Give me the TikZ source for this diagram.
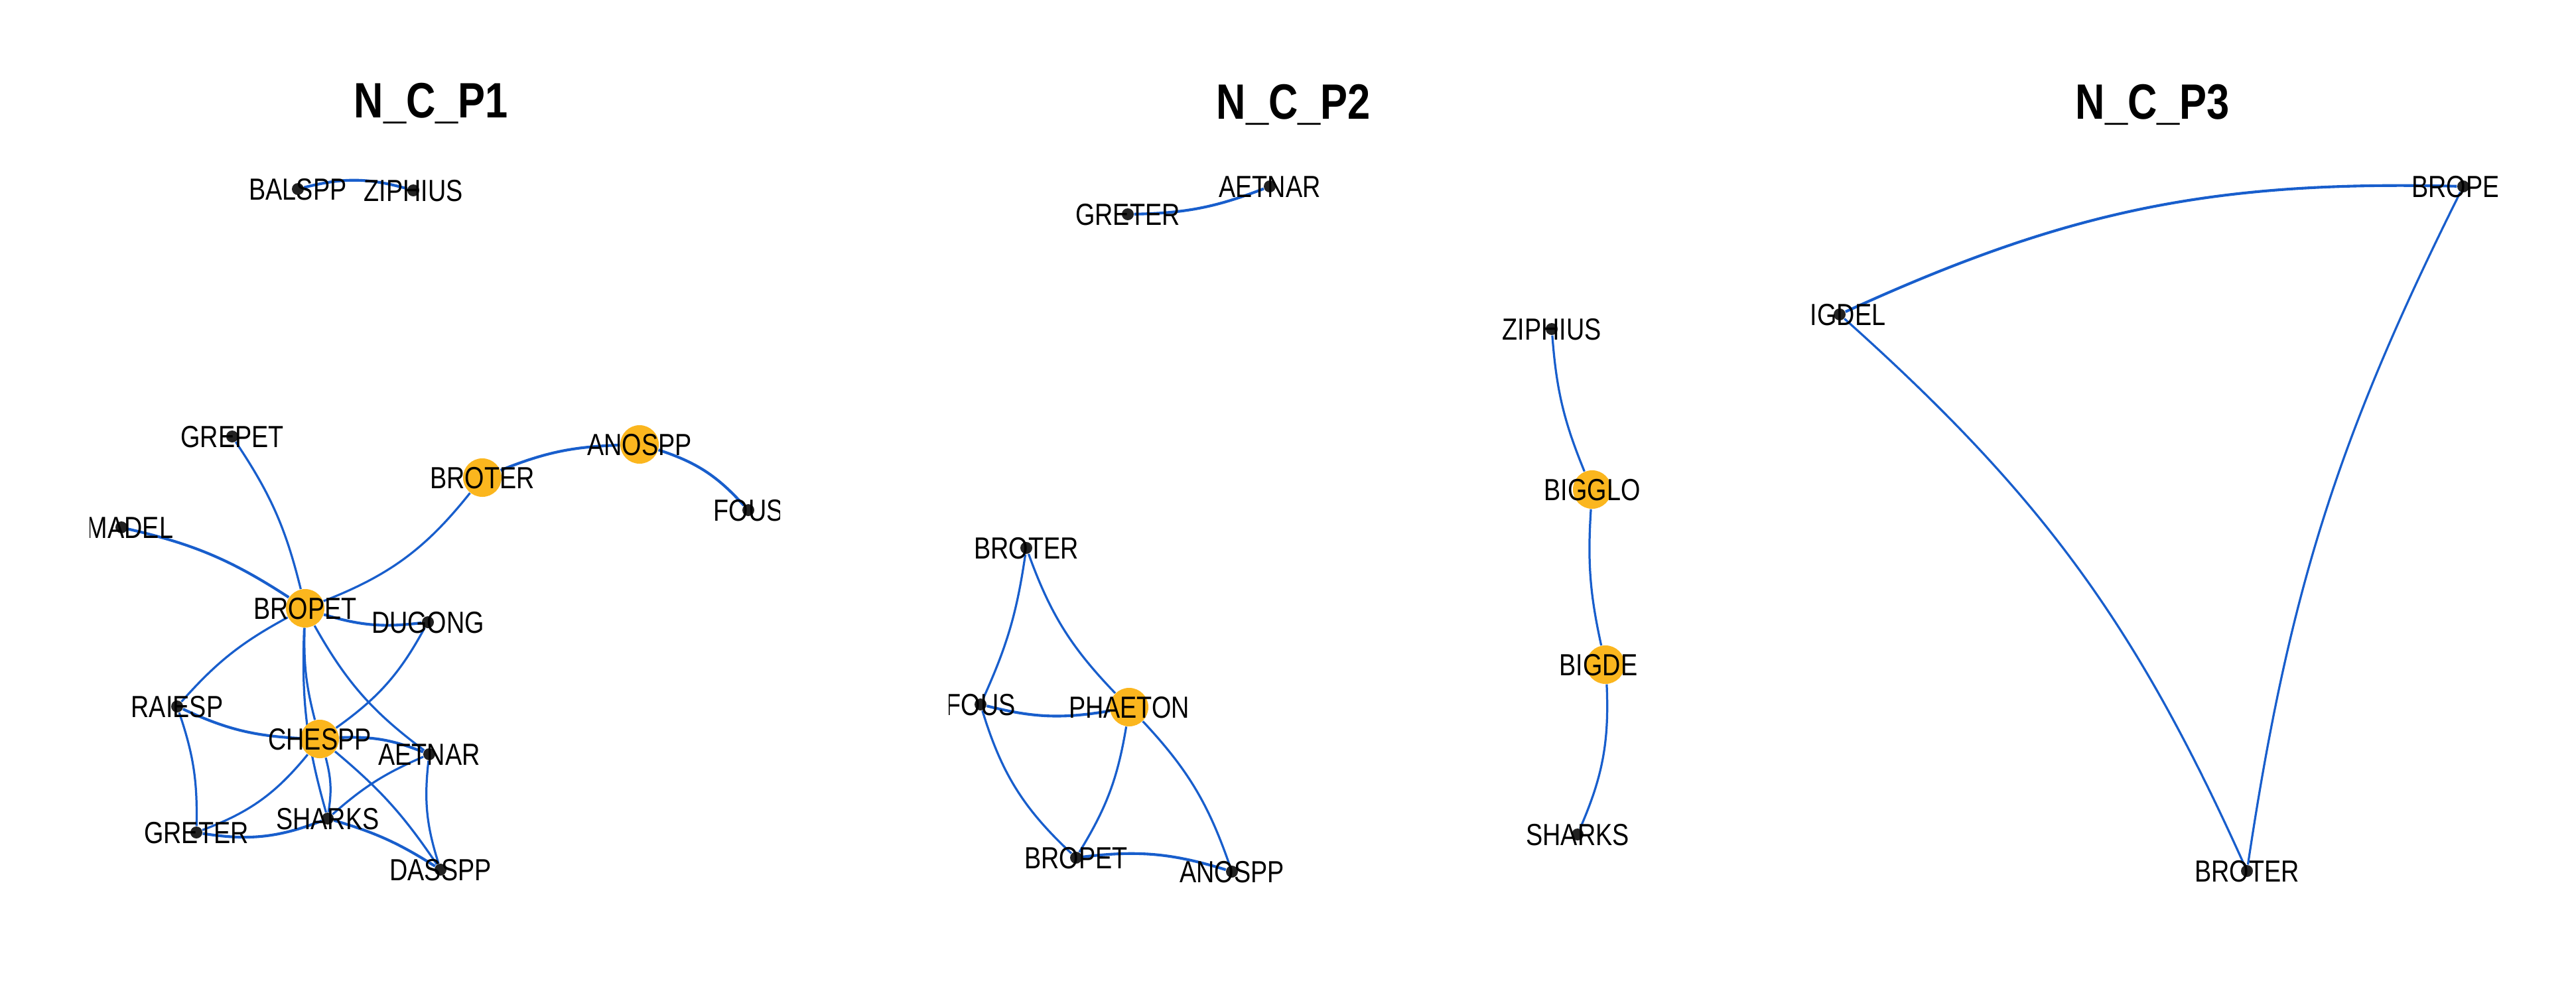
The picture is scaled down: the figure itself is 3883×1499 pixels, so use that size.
\documentclass[tikz,border=0pt]{standalone}
\usepackage{fontspec}
\newfontfamily\labfont{Liberation Sans}[FakeStretch=0.82]
\usetikzlibrary{backgrounds}
\definecolor{hubc}{RGB}{251,182,30}
\definecolor{linkc}{RGB}{24,94,204}
\definecolor{spotc}{RGB}{34,34,34}

\begin{document}
\begin{tikzpicture}[x=0.01cm, y=0.01cm]
\tikzstyle{spot}=[circle, fill=spotc, inner sep=0, minimum size=0.18cm]
\tikzstyle{hub}=[circle, fill=hubc, inner sep=0, minimum size=0.58cm]
\tikzstyle{lab}=[font=\labfont\fontsize{13.1pt}{15pt}\selectfont, inner sep=0, text height=0.33cm, text depth=0pt]
\tikzstyle{ttl}=[font=\labfont\bfseries\fontsize{21.3pt}{25pt}\selectfont, inner sep=0, text height=0.54cm, text depth=0pt]
\tikzstyle{link}=[draw=linkc, line width=0.92pt]
\tikzstyle{heavy}=[draw=linkc, line width=1.17pt]

  \useasboundingbox (0,0) rectangle (3883,-1499);

  % titres
  \node[ttl] (t1) at (650,-150) {N\_C\_P1};
  \node[ttl] (t2) at (1950,-152) {N\_C\_P2};
  \node[ttl] (t3) at (3245,-152) {N\_C\_P3};

  % reseau 1
  \begin{scope}
  \clip (135,-200) rectangle (1175,-1450);
  \node[spot, label={[lab]center:BALSPP}] (a_balspp) at (449,-285) {};
  \node[spot, label={[lab]center:ZIPHIUS}] (a_ziphius) at (623,-287) {};
  \node[spot, label={[lab]center:GREPET}] (a_grepet) at (350,-658) {};
  \node[hub, label={[lab]center:BROTER}] (a_broter) at (727,-720) {};
  \node[hub, label={[lab]center:ANOSPP}] (a_anospp) at (964,-670) {};
  \node[spot, label={[lab]center:FOUS}] (a_fous) at (1128,-769) {};
  \node[spot, label={[lab, xshift=0.13cm]center:MADEL}] (a_madel) at (183,-795) {};
  \node[hub, label={[lab]center:BROPET}] (a_bropet) at (460,-917) {};
  \node[spot, label={[lab]center:DUGONG}] (a_dugong) at (645,-938) {};
  \node[spot, label={[lab]center:RAIESP}] (a_raiesp) at (267,-1065) {};
  \node[hub, label={[lab]center:CHESPP}] (a_chespp) at (482,-1114) {};
  \node[spot, label={[lab]center:AETNAR}] (a_aetnar) at (647,-1137) {};
  \node[spot, label={[lab]center:SHARKS}] (a_sharks) at (494,-1234) {};
  \node[spot, label={[lab]center:GRETER}] (a_greter) at (296,-1255) {};
  \node[spot, label={[lab]center:DASSPP}] (a_dasspp) at (664,-1311) {};
  \end{scope}

  % reseau 2
  \begin{scope}
  \clip (1430,-200) rectangle (2470,-1450);
  \node[spot, label={[lab]center:GRETER}] (b_greter) at (1700,-323) {};
  \node[spot, label={[lab]center:AETNAR}] (b_aetnar) at (1914,-281) {};
  \node[spot, label={[lab]center:ZIPHIUS}] (b_ziphius) at (2339,-496) {};
  \node[hub, label={[lab]center:BIGGLO}] (b_bigglo) at (2400,-738) {};
  \node[hub, label={[lab]center:BIGDEL}] (b_bigdel) at (2420,-1002) {};
  \node[spot, label={[lab]center:SHARKS}] (b_sharks) at (2378,-1258) {};
  \node[spot, label={[lab]center:BROTER}] (b_broter) at (1547,-826) {};
  \node[spot, label={[lab]center:FOUS}] (b_fous) at (1478,-1062) {};
  \node[hub, label={[lab]center:PHAETON}] (b_phaeton) at (1702,-1066) {};
  \node[spot, label={[lab]center:BROPET}] (b_bropet) at (1622,-1293) {};
  \node[spot, label={[lab]center:ANOSPP}] (b_anospp) at (1857,-1314) {};
  \end{scope}

  % reseau 3
  \begin{scope}
  \clip (2727,-200) rectangle (3764,-1450);
  \node[spot, label={[lab]center:BIGDEL}] (c_bigdel) at (2773,-474) {};
  \node[spot, label={[lab]center:BROPET}] (c_bropet) at (3713,-281) {};
  \node[spot, label={[lab]center:BROTER}] (c_broter) at (3387,-1313) {};
  \end{scope}

  % liens
  \begin{scope}[on background layer]
  \path (a_balspp) edge [heavy, bend left=15] (a_ziphius)
        (a_grepet) edge [link, bend left=10] (a_bropet)
        (a_madel) edge [heavy, bend left=10] (a_bropet)
        (a_bropet) edge [link, bend right=15] (a_broter)
        (a_broter) edge [heavy, bend left=10] (a_anospp)
        (a_anospp) edge [heavy, bend left=15] (a_fous)
        (a_bropet) edge [heavy, bend right=12] (a_dugong)
        (a_bropet) edge [link, bend right=10] (a_raiesp)
        (a_bropet) edge [link, bend right=8] (a_chespp)
        (a_bropet) edge [link, bend right=9] (a_sharks)
        (a_chespp) edge [link, bend left=12] (a_sharks)
        (a_bropet) edge [link, bend right=12] (a_aetnar)
        (a_dugong) edge [link, bend left=13] (a_chespp)
        (a_raiesp) edge [heavy, bend right=11] (a_chespp)
        (a_chespp) edge [heavy, bend left=12] (a_aetnar)
        (a_raiesp) edge [link, bend left=10] (a_greter)
        (a_chespp) edge [link, bend left=15] (a_greter)
        (a_greter) edge [heavy, bend right=15] (a_sharks)
        (a_aetnar) edge [link, bend right=9] (a_sharks)
        (a_aetnar) edge [link, bend right=12] (a_dasspp)
        (a_chespp) edge [link, bend left=8] (a_dasspp)
        (a_sharks) edge [heavy, bend left=8] (a_dasspp);

  \path (b_greter) edge [heavy, bend right=10] (b_aetnar)
        (b_ziphius) edge [link, bend right=9] (b_bigglo)
        (b_bigglo) edge [link, bend right=8] (b_bigdel)
        (b_bigdel) edge [link, bend left=13] (b_sharks)
        (b_broter) edge [link, bend right=12] (b_phaeton)
        (b_broter) edge [link, bend left=8] (b_fous)
        (b_fous) edge [heavy, bend right=12] (b_phaeton)
        (b_fous) edge [link, bend right=15] (b_bropet)
        (b_phaeton) edge [link, bend left=11] (b_bropet)
        (b_phaeton) edge [link, bend left=12] (b_anospp)
        (b_bropet) edge [heavy, bend left=12] (b_anospp);

  \path (c_bigdel) edge [heavy, bend left=13] (c_bropet)
        (c_bigdel) edge [link, bend left=12] (c_broter)
        (c_bropet) edge [link, bend right=9] (c_broter);
  \end{scope}

\end{tikzpicture}
\end{document}
